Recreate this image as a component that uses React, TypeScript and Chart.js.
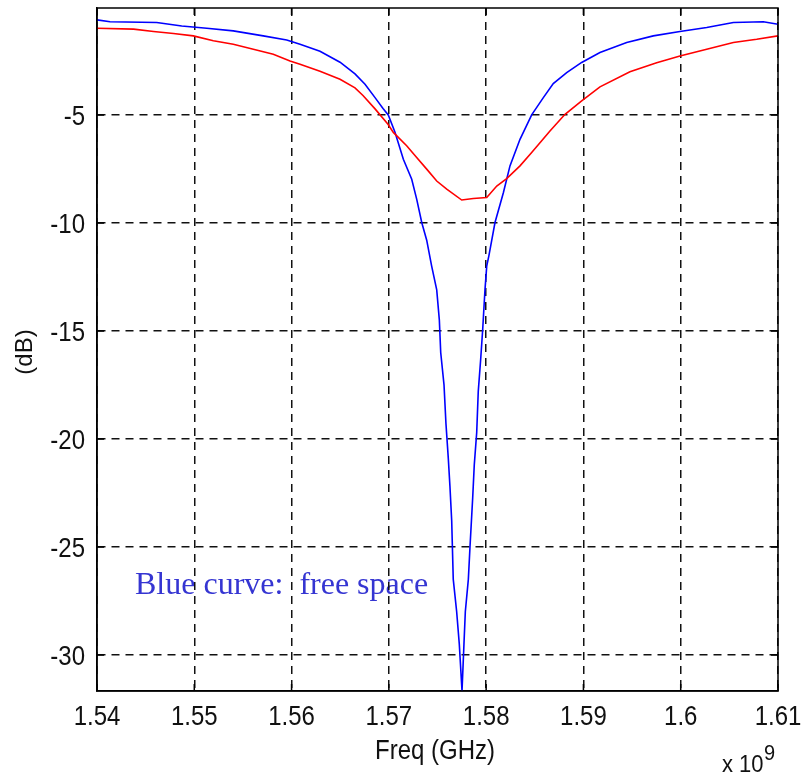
import React, { useEffect, useRef } from "react";
import { Chart, registerables } from "chart.js";

Chart.register(...registerables);

const blueFreq = [
  1.54, 1.54134, 1.54614, 1.54871, 1.55128, 1.55401, 1.55709, 1.5595, 1.56087, 1.56292,
  1.56498, 1.56652, 1.56755, 1.56858, 1.5694, 1.56994, 1.57063, 1.57149, 1.57235, 1.57286,
  1.57338, 1.57389, 1.5744, 1.57492, 1.57519, 1.57533, 1.57567, 1.57587, 1.57611, 1.57628,
  1.57646, 1.57662, 1.57697, 1.57724, 1.57752, 1.57772, 1.57786, 1.57817, 1.57834, 1.57862,
  1.57878, 1.57903, 1.57919, 1.57944, 1.57965, 1.57988, 1.58006, 1.58029, 1.58091, 1.58177,
  1.58245, 1.58348, 1.58468, 1.58588, 1.5869, 1.58828, 1.58982, 1.5917, 1.59445, 1.59718,
  1.59992, 1.60267, 1.60541, 1.60849, 1.61,
];
const blueDb = [
  -0.6, -0.69, -0.72, -0.88, -0.99, -1.11, -1.34, -1.53, -1.73, -2.05,
  -2.56, -3.1, -3.58, -4.2, -4.7, -5.0, -5.8, -7.05, -7.98, -8.9,
  -9.98, -10.8, -12.0, -13.1, -14.5, -16.0, -17.5, -19.3, -20.9, -22.2,
  -23.8, -26.5, -28.0, -29.5, -31.67, -29.5, -28.0, -26.5, -25.0, -22.7,
  -21.2, -19.7, -17.8, -16.3, -14.9, -13.1, -12.0, -11.5, -9.98, -8.6,
  -7.36, -6.13, -5.0, -4.2, -3.55, -3.04, -2.57, -2.11, -1.65, -1.34,
  -1.14, -0.95, -0.72, -0.69, -0.8,
];

const redFreq = [
  1.54, 1.54376, 1.54581, 1.54786, 1.5499, 1.55196, 1.55401, 1.55607, 1.55812, 1.55984,
  1.56087, 1.56292, 1.56498, 1.56652, 1.56734, 1.56858, 1.56991, 1.57046, 1.57183, 1.57286,
  1.57389, 1.57492, 1.57595, 1.57749, 1.57868, 1.58006, 1.58109, 1.58211, 1.58348, 1.58468,
  1.58571, 1.58656, 1.58811, 1.58982, 1.5917, 1.59478, 1.59753, 1.59992, 1.60267, 1.60541,
  1.60781, 1.61,
];
const redDb = [
  -0.99, -1.03, -1.14, -1.23, -1.34, -1.57, -1.73, -1.96, -2.19, -2.5,
  -2.65, -2.98, -3.35, -3.75, -4.1, -4.72, -5.43, -5.81, -6.43, -6.97,
  -7.51, -8.06, -8.44, -8.94, -8.87, -8.82, -8.29, -7.95, -7.36, -6.74,
  -6.2, -5.74, -4.97, -4.35, -3.7, -3.0, -2.58, -2.27, -1.96, -1.65,
  -1.5, -1.34,
];

const xTickValues = [1.54, 1.55, 1.56, 1.57, 1.58, 1.59, 1.6, 1.61];
const xTickLabels = ["1.54", "1.55", "1.56", "1.57", "1.58", "1.59", "1.6", "1.61"];
const yTickValues = [-30, -25, -20, -15, -10, -5];
const yTickLabels = ["-30", "-25", "-20", "-15", "-10", "-5"];

const xTitle = "Freq (GHz)";
const yTitle = "(dB)";
const xExponentBase = "x 10";
const xExponent = "9";
const annotation = "Blue curve:  free space";

const SANS = '"Liberation Sans", Arial, sans-serif';
const SERIF = '"Liberation Serif", "Times New Roman", serif';

function stretchedText(
  ctx: CanvasRenderingContext2D,
  text: string,
  x: number,
  y: number,
  align: CanvasTextAlign,
  font: string,
  sy: number,
  rotate = 0
) {
  ctx.save();
  ctx.translate(x, y);
  if (rotate) ctx.rotate(rotate);
  ctx.scale(1, sy);
  ctx.font = font;
  ctx.textAlign = align;
  ctx.textBaseline = "alphabetic";
  ctx.fillText(text, 0, 0);
  ctx.restore();
}

const matlabPlugin = {
  id: "matlabLook",
  beforeDraw(chart: any) {
    const ctx = chart.ctx as CanvasRenderingContext2D;
    ctx.save();
    ctx.fillStyle = "#3535d2";
    ctx.font = `32px ${SERIF}`;
    ctx.textAlign = "left";
    ctx.textBaseline = "alphabetic";
    ctx.fillText(annotation, 135, 594);
    ctx.restore();
  },
  afterDraw(chart: any) {
    const ctx = chart.ctx as CanvasRenderingContext2D;
    const { left, right, top, bottom } = chart.chartArea;
    const xs = chart.scales.x;
    const ys = chart.scales.y;

    ctx.save();
    ctx.strokeStyle = "#000";
    ctx.lineWidth = 1.5;
    ctx.setLineDash([]);
    ctx.strokeRect(left, top, right - left, bottom - top);

    const tl = 7;
    ctx.beginPath();
    xTickValues.forEach((v) => {
      const px = xs.getPixelForValue(v);
      ctx.moveTo(px, bottom);
      ctx.lineTo(px, bottom - tl);
      ctx.moveTo(px, top);
      ctx.lineTo(px, top + tl);
    });
    yTickValues.forEach((v) => {
      const py = ys.getPixelForValue(v);
      ctx.moveTo(left, py);
      ctx.lineTo(left + tl, py);
      ctx.moveTo(right, py);
      ctx.lineTo(right - tl, py);
    });
    ctx.stroke();

    ctx.fillStyle = "#111";
    const tickFont = `24px ${SANS}`;
    xTickValues.forEach((v, i) => {
      const px = xs.getPixelForValue(v);
      stretchedText(ctx, xTickLabels[i], px, 725, "center", tickFont, 1.15);
    });
    yTickValues.forEach((v, i) => {
      const py = ys.getPixelForValue(v);
      stretchedText(ctx, yTickLabels[i], 85, py + 10, "right", tickFont, 1.15);
    });

    stretchedText(ctx, xTitle, 435, 759, "center", `24px ${SANS}`, 1.15);
    stretchedText(ctx, yTitle, 32, 352, "center", `24px ${SANS}`, 1.0, -Math.PI / 2);

    stretchedText(ctx, xExponentBase, 722, 772, "left", `22px ${SANS}`, 1.1);
    stretchedText(ctx, xExponent, 764, 760, "left", `20px ${SANS}`, 1.1);
    ctx.restore();
  },
};

export default function App() {
  const canvasRef = useRef<HTMLCanvasElement | null>(null);

  useEffect(() => {
    const canvas = canvasRef.current;
    if (!canvas) return;
    const blueData = blueFreq.map((f, i) => ({ x: f, y: blueDb[i] }));
    const redData = redFreq.map((f, i) => ({ x: f, y: redDb[i] }));

    const gridCommon = {
      color: "#111",
      lineWidth: 1.5,
      drawTicks: false,
    };

    const chart = new Chart(canvas, {
      type: "line",
      data: {
        datasets: [
          {
            label: "red",
            data: redData,
            borderColor: "#ff0000",
            borderWidth: 1.6,
            pointRadius: 0,
            tension: 0,
            fill: false,
          },
          {
            label: "blue",
            data: blueData,
            borderColor: "#0000ff",
            borderWidth: 1.6,
            pointRadius: 0,
            tension: 0,
            fill: false,
          },
        ],
      },
      options: {
        responsive: false,
        animation: false,
        devicePixelRatio: 1,
        layout: { padding: { left: 97, right: 25, top: 8, bottom: 85 } },
        plugins: {
          legend: { display: false },
          tooltip: { enabled: false },
          title: { display: false },
        },
        scales: {
          x: {
            type: "linear",
            min: 1.54,
            max: 1.61,
            afterBuildTicks: (scale: any) => {
              scale.ticks = xTickValues.map((v) => ({ value: v }));
            },
            ticks: { display: false },
            grid: gridCommon,
            border: { display: true, color: "#000", width: 1.5, dash: [8, 6] },
          },
          y: {
            type: "linear",
            min: -31.67,
            max: -0.05,
            afterBuildTicks: (scale: any) => {
              scale.ticks = yTickValues.map((v) => ({ value: v }));
            },
            ticks: { display: false },
            grid: gridCommon,
            border: { display: true, color: "#000", width: 1.5, dash: [8, 6] },
          },
        },
      },
      plugins: [matlabPlugin],
    });

    return () => chart.destroy();
  }, []);

  return (
    <div style={{ position: "fixed", left: 0, top: 0, width: 803, height: 776, background: "#fff" }}>
      <canvas ref={canvasRef} width={803} height={776} style={{ display: "block" }} />
    </div>
  );
}
